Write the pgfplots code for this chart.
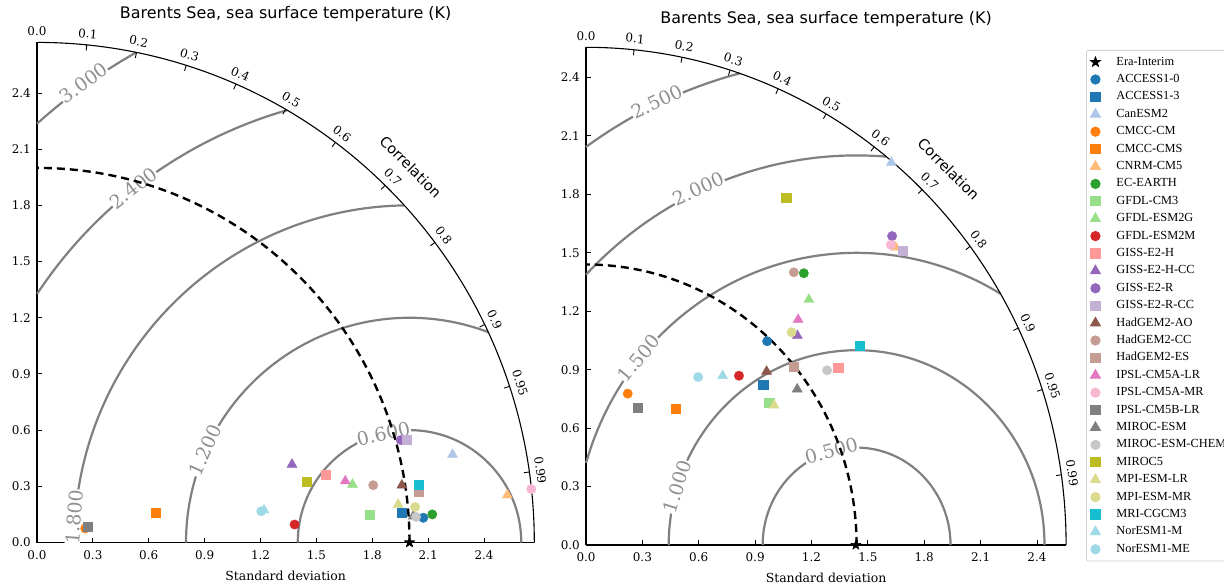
\documentclass[border=0pt]{standalone}
\usepackage{fontspec}
\setmainfont{DejaVu Serif}
\newfontfamily\sansf{DejaVu Sans}
\newfontfamily\legf{Liberation Serif}
\usepackage{pgfplots}
\pgfplotsset{compat=1.18}
\usetikzlibrary{plotmarks}

\definecolor{tBlue}{HTML}{1F77B4}\definecolor{tBlueL}{HTML}{AEC7E8}
\definecolor{tOrange}{HTML}{FF7F0E}\definecolor{tOrangeL}{HTML}{FFBB78}
\definecolor{tGreen}{HTML}{2CA02C}\definecolor{tGreenL}{HTML}{98DF8A}
\definecolor{tRed}{HTML}{D62728}\definecolor{tRedL}{HTML}{FF9896}
\definecolor{tPurple}{HTML}{9467BD}\definecolor{tPurpleL}{HTML}{C5B0D5}
\definecolor{tBrown}{HTML}{8C564B}\definecolor{tBrownL}{HTML}{C49C94}
\definecolor{tPink}{HTML}{E377C2}\definecolor{tPinkL}{HTML}{F7B6D2}
\definecolor{tGray}{HTML}{7F7F7F}\definecolor{tGrayL}{HTML}{C7C7C7}
\definecolor{tOlive}{HTML}{BCBD22}\definecolor{tOliveL}{HTML}{DBDB8D}
\definecolor{tCyan}{HTML}{17BECF}\definecolor{tCyanL}{HTML}{9EDAE5}
\definecolor{cgray}{HTML}{808080}
\definecolor{clabgray}{HTML}{909090}

\pgfdeclareplotmark{fstar}{%
  \pgfpathmoveto{\pgfpointpolar{90}{\pgfplotmarksize}}%
  \pgfpathlineto{\pgfpointpolar{126}{0.4*\pgfplotmarksize}}%
  \pgfpathlineto{\pgfpointpolar{162}{\pgfplotmarksize}}%
  \pgfpathlineto{\pgfpointpolar{198}{0.4*\pgfplotmarksize}}%
  \pgfpathlineto{\pgfpointpolar{234}{\pgfplotmarksize}}%
  \pgfpathlineto{\pgfpointpolar{270}{0.4*\pgfplotmarksize}}%
  \pgfpathlineto{\pgfpointpolar{306}{\pgfplotmarksize}}%
  \pgfpathlineto{\pgfpointpolar{342}{0.4*\pgfplotmarksize}}%
  \pgfpathlineto{\pgfpointpolar{18}{\pgfplotmarksize}}%
  \pgfpathlineto{\pgfpointpolar{54}{0.4*\pgfplotmarksize}}%
  \pgfpathclose\pgfusepathqfillstroke}

\newcommand\tickf{\fontsize{12}{12}\selectfont}
\newcommand\ctf{\fontsize{12}{12}\selectfont}
\newcommand\labf{\fontsize{12.5}{12.5}\selectfont}
\newcommand\clabf{\fontsize{19}{19}\selectfont}

\tikzset{
  contour/.style={draw=cgray, line width=2.2bp},
  clab/.style={font=\clabf, text=clabgray, fill=white, inner sep=0.5bp},
  refc/.style={draw=black, line width=2.4bp, dash pattern=on 8bp off 5bp},
}
\pgfplotsset{
  taylor/.style={
    scale only axis, clip=false,
    xmin=0, ymin=0,
    axis x line*=bottom, axis y line*=left,
    axis line style={line width=1.1bp, -},
    tick align=inside, major tick length=5bp,
    tick style={black, line width=0.9bp},
    xtick={0,0.3,0.6,0.9,1.2,1.5,1.8,2.1,2.4},
    ytick={0,0.3,0.6,0.9,1.2,1.5,1.8,2.1,2.4},
    /pgf/number format/fixed, /pgf/number format/fixed zerofill,
    /pgf/number format/precision=1, /pgf/number format/assume math mode=true,
    xticklabel style={font=\tickf, anchor=center, yshift=-12.5bp, inner sep=0bp},
    yticklabel style={font=\tickf, anchor=east, xshift=-6bp, inner sep=0bp},
    title={Barents Sea, sea surface temperature (K)},
    title style={font=\sansf\fontsize{16}{16}\selectfont, at={(axis description cs:0.5,1)}, anchor=center, yshift=22bp},
    xlabel={Standard deviation},
    xlabel style={font=\labf, at={(axis description cs:0.5,0)}, anchor=center, yshift=-33bp},
  },
  mC/.style={only marks, mark=*, mark size=4.7bp, color=#1},
  mS/.style={only marks, mark=square*, mark size=4.6bp, color=#1},
  mT/.style={only marks, mark=triangle*, mark size=5.8bp, color=#1},
  mStar/.style={only marks, mark=fstar, mark size=5.2bp, color=black},
}

\begin{document}
\begin{tikzpicture}
\path[use as bounding box] (0bp,0bp) rectangle (1224bp,-585bp);
\clip (0bp,0bp) rectangle (1224bp,-585bp);

% ---------------- left panel ----------------
\begin{axis}[taylor,
  at={(37bp,-542.5bp)}, anchor=south west,
  width=497.3bp, height=500.1bp,
  xmax=2.67, ymax=2.67]
  \draw[contour] (axis cs:2.6,0) arc[start angle=0, end angle=180, x radius=111.75bp, y radius=112.38bp];
  \draw[contour] (axis cs:{2+1.2*cos(69.4)},{1.2*sin(69.4)}) arc[start angle=69.4, end angle=180, x radius=223.5bp, y radius=224.76bp];
  \draw[contour] (axis cs:{2+1.8*cos(90.9)},{1.8*sin(90.9)}) arc[start angle=90.9, end angle=180, x radius=335.25bp, y radius=337.14bp];
  \draw[contour] (axis cs:{2+2.4*cos(105.9)},{2.4*sin(105.9)}) arc[start angle=105.9, end angle=146.4, x radius=447bp, y radius=449.52bp];
  \draw[contour] (axis cs:{2+3*cos(119.3)},{3*sin(119.3)}) arc[start angle=119.3, end angle=131.8, x radius=558.75bp, y radius=561.9bp];
  \node[clab, rotate=13] at (axis cs:1.86,0.58) {0.600};
  \node[clab, rotate=65.8] at (axis cs:0.902,0.493) {1.200};
  \node[clab, rotate=85.6] at (axis cs:0.2,0.137) {1.800};
  \node[clab, rotate=38] at (axis cs:0.518,1.893) {2.400};
  \node[clab, rotate=35.5] at (axis cs:0.25,2.453) {3.000};
  \draw[line width=1.1bp] (axis cs:2.67,0) arc[start angle=0, end angle=90, x radius=497.3bp, y radius=500.1bp];
  \pgfplotsinvokeforeach{0.0,0.1,0.2,0.3,0.4,0.5,0.6,0.7,0.8,0.9,0.95,0.99}{
    \draw[line width=0.9bp] (axis cs:{2.67*#1},{2.67*sin(acos(#1))}) -- (axis cs:{2.64*#1},{2.64*sin(acos(#1))});
    \node[font=\ctf, inner sep=0bp, rotate={acos(#1)-90}] at (axis cs:{2.73*#1},{2.73*sin(acos(#1))}) {#1};
  }
  \node[font=\sansf\fontsize{14.5}{14.5}\selectfont, rotate=-45] at (axis cs:2.006,2.006) {Correlation};
  \draw[refc] (axis cs:2,0) arc[start angle=0, end angle=90, x radius=372.5bp, y radius=374.6bp];
  \addplot[mStar] coordinates {(2.0,0)};
  \addplot[mC=tBlue] coordinates {(2.074,0.132)};
  \addplot[mS=tBlue] coordinates {(1.959,0.160)};
  \addplot[mT=tBlueL] coordinates {(2.231,0.470)};
  \addplot[mC=tOrange] coordinates {(0.259,0.075)};
  \addplot[mS=tOrange] coordinates {(0.637,0.160)};
  \addplot[mT=tOrangeL] coordinates {(2.525,0.253)};
  \addplot[mC=tGreen] coordinates {(2.122,0.150)};
  \addplot[mS=tGreenL] coordinates {(1.786,0.150)};
  \addplot[mT=tGreenL] coordinates {(1.694,0.310)};
  \addplot[mC=tRed] coordinates {(1.383,0.096)};
  \addplot[mS=tRedL] coordinates {(1.550,0.363)};
  \addplot[mT=tPurple] coordinates {(1.369,0.417)};
  \addplot[mC=tPurple] coordinates {(1.953,0.547)};
  \addplot[mS=tPurpleL] coordinates {(1.987,0.550)};
  \addplot[mT=tBrown] coordinates {(1.959,0.306)};
  \addplot[mC=tBrownL] coordinates {(1.805,0.306)};
  \addplot[mS=tBrownL] coordinates {(2.050,0.274)};
  \addplot[mT=tPink] coordinates {(1.655,0.328)};
  \addplot[mC=tPinkL] coordinates {(2.654,0.285)};
  \addplot[mS=tGray] coordinates {(0.273,0.084)};
  \addplot[mT=tGray] coordinates {(2.020,0.140)};
  \addplot[mC=tGrayL] coordinates {(2.035,0.137)};
  \addplot[mS=tOlive] coordinates {(1.450,0.324)};
  \addplot[mT=tOliveL] coordinates {(1.939,0.203)};
  \addplot[mC=tOliveL] coordinates {(2.030,0.190)};
  \addplot[mS=tCyan] coordinates {(2.050,0.310)};
  \addplot[mT=tCyanL] coordinates {(1.219,0.173)};
  \addplot[mC=tCyanL] coordinates {(1.204,0.167)};
  \addplot[mStar] coordinates {(2.0,0)};
\end{axis}

% ---------------- right panel ----------------
\begin{axis}[taylor,
  at={(586bp,-545bp)}, anchor=south west,
  width=480.1bp, height=497.7bp,
  xmax=2.555, ymax=2.555,
  legend cell align=left,
  legend image code/.code={\draw[mark repeat=2,mark phase=2,#1] plot coordinates {(0bp,0bp) (7bp,0bp) (14bp,0bp)};},
  legend style={at={(axis description cs:1.0415,0.9946)}, anchor=north west,
    draw=black!18, line width=0.8bp, rounded corners=2bp, fill=white,
    font=\legf\fontsize{12.4}{12.4}\selectfont,
    inner xsep=4bp, inner ysep=3bp, row sep=0bp, column sep=16bp,
    nodes={inner xsep=0bp, inner ysep=4.7bp, text height=7bp, text depth=1bp}},
  ]
  \draw[contour] (axis cs:1.94,0) arc[start angle=0, end angle=180, x radius=93.95bp, y radius=97.4bp];
  \draw[contour] (axis cs:2.44,0) arc[start angle=0, end angle=180, x radius=187.9bp, y radius=194.8bp];
  \draw[contour] (axis cs:{1.44+1.5*cos(59.3)},{1.5*sin(59.3)}) arc[start angle=59.3, end angle=163.7, x radius=281.85bp, y radius=292.2bp];
  \draw[contour] (axis cs:{1.44+2*cos(85.5)},{2*sin(85.5)}) arc[start angle=85.5, end angle=136.05, x radius=375.8bp, y radius=389.6bp];
  \draw[contour] (axis cs:{1.44+2.5*cos(104.4)},{2.5*sin(104.4)}) arc[start angle=104.4, end angle=125.2, x radius=469.75bp, y radius=487bp];
  \node[clab, rotate=15.4] at (axis cs:1.306,0.485) {0.500};
  \node[clab, rotate=72.5] at (axis cs:0.486,0.30) {1.000};
  \node[clab, rotate=50.3] at (axis cs:0.282,0.96) {1.500};
  \node[clab, rotate=24.7] at (axis cs:0.597,1.829) {2.000};
  \node[clab, rotate=25] at (axis cs:0.376,2.275) {2.500};
  \draw[line width=1.1bp] (axis cs:2.555,0) arc[start angle=0, end angle=90, x radius=480.1bp, y radius=497.7bp];
  \pgfplotsinvokeforeach{0.0,0.1,0.2,0.3,0.4,0.5,0.6,0.7,0.8,0.9,0.95,0.99}{
    \draw[line width=0.9bp] (axis cs:{2.555*#1},{2.555*sin(acos(#1))}) -- (axis cs:{2.527*#1},{2.527*sin(acos(#1))});
    \node[font=\ctf, inner sep=0bp, rotate={acos(#1)-90}] at (axis cs:{2.613*#1},{2.613*sin(acos(#1))}) {#1};
  }
  \node[font=\sansf\fontsize{14.5}{14.5}\selectfont, rotate=-45] at (axis cs:1.930,1.930) {Correlation};
  \draw[refc] (axis cs:1.44,0) arc[start angle=0, end angle=90, x radius=270.6bp, y radius=280.5bp];
  \addplot[mStar] coordinates {(1.436,0)}; \addlegendentry{Era-Interim}
  \addplot[mC=tBlue] coordinates {(0.964,1.046)}; \addlegendentry{ACCESS1-0}
  \addplot[mS=tBlue] coordinates {(0.943,0.823)}; \addlegendentry{ACCESS1-3}
  \addplot[mT=tBlueL] coordinates {(1.625,1.963)}; \addlegendentry{CanESM2}
  \addplot[mC=tOrange] coordinates {(0.222,0.777)}; \addlegendentry{CMCC-CM}
  \addplot[mS=tOrange] coordinates {(0.477,0.701)}; \addlegendentry{CMCC-CMS}
  \addplot[mT=tOrangeL] coordinates {(1.648,1.529)}; \addlegendentry{CNRM-CM5}
  \addplot[mC=tGreen] coordinates {(1.159,1.395)}; \addlegendentry{EC-EARTH}
  \addplot[mS=tGreenL] coordinates {(0.975,0.732)}; \addlegendentry{GFDL-CM3}
  \addplot[mT=tGreenL] coordinates {(1.186,1.260)}; \addlegendentry{GFDL-ESM2G}
  \addplot[mC=tRed] coordinates {(0.814,0.869)}; \addlegendentry{GFDL-ESM2M}
  \addplot[mS=tRedL] coordinates {(1.342,0.909)}; \addlegendentry{GISS-E2-H}
  \addplot[mT=tPurple] coordinates {(1.125,1.075)}; \addlegendentry{GISS-E2-H-CC}
  \addplot[mC=tPurple] coordinates {(1.629,1.586)}; \addlegendentry{GISS-E2-R}
  \addplot[mS=tPurpleL] coordinates {(1.684,1.509)}; \addlegendentry{GISS-E2-R-CC}
  \addplot[mT=tBrown] coordinates {(0.961,0.891)}; \addlegendentry{HadGEM2-AO}
  \addplot[mC=tBrownL] coordinates {(1.106,1.400)}; \addlegendentry{HadGEM2-CC}
  \addplot[mS=tBrownL] coordinates {(1.106,0.914)}; \addlegendentry{HadGEM2-ES}
  \addplot[mT=tPink] coordinates {(1.129,1.157)}; \addlegendentry{IPSL-CM5A-LR}
  \addplot[mC=tPinkL] coordinates {(1.622,1.541)}; \addlegendentry{IPSL-CM5A-MR}
  \addplot[mS=tGray] coordinates {(0.273,0.703)}; \addlegendentry{IPSL-CM5B-LR}
  \addplot[mT=tGray] coordinates {(1.124,0.800)}; \addlegendentry{MIROC-ESM}
  \addplot[mC=tGrayL] coordinates {(1.283,0.897)}; \addlegendentry{MIROC-ESM-CHEM}
  \addplot[mS=tOlive] coordinates {(1.065,1.783)}; \addlegendentry{MIROC5}
  \addplot[mT=tOliveL] coordinates {(1.001,0.717)}; \addlegendentry{MPI-ESM-LR}
  \addplot[mC=tOliveL] coordinates {(1.094,1.092)}; \addlegendentry{MPI-ESM-MR}
  \addplot[mS=tCyan] coordinates {(1.457,1.023)}; \addlegendentry{MRI-CGCM3}
  \addplot[mT=tCyanL] coordinates {(0.727,0.869)}; \addlegendentry{NorESM1-M}
  \addplot[mC=tCyanL] coordinates {(0.597,0.862)}; \addlegendentry{NorESM1-ME}
\end{axis}
\end{tikzpicture}
\end{document}
